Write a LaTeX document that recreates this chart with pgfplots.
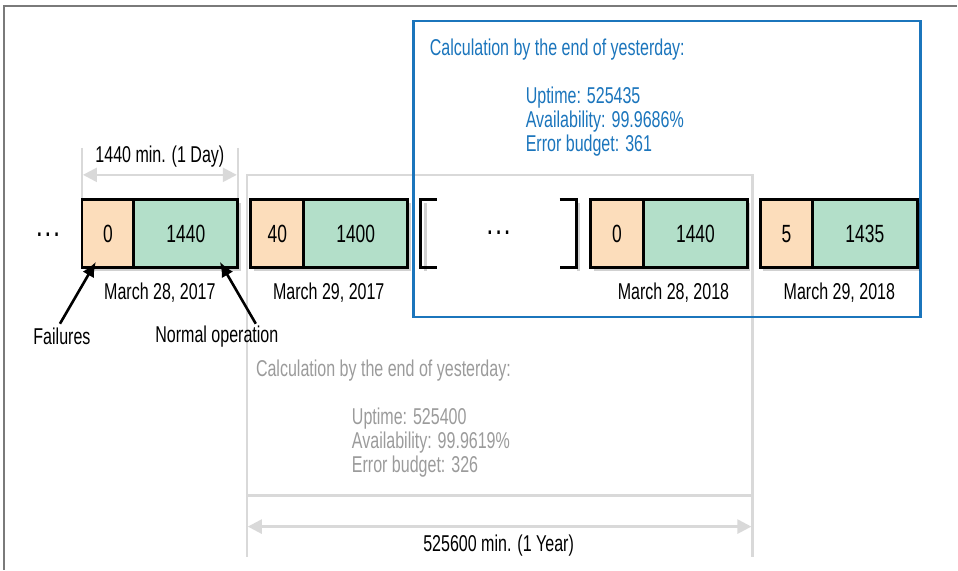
\documentclass[border=0pt]{standalone}
\usepackage{pgfplots}
\pgfplotsset{compat=1.18}
\usepackage{fontspec}
\setmainfont{Liberation Sans}[FakeStretch=0.70]
\usetikzlibrary{arrows.meta}
\definecolor{peach}{HTML}{FCDDBB}
\definecolor{mint}{HTML}{B3DFC9}
\definecolor{oblue}{HTML}{1B75BC}
\definecolor{lgray}{HTML}{D9D9D9}
\definecolor{tgray}{HTML}{9B9B9B}
\definecolor{fgray}{HTML}{7A7A7A}
\newcommand{\dayblock}[5]{%
  \fill[black,opacity=0.18,xshift=3bp,yshift=-3bp] (#1,200) rectangle (#3,268);
  \addplot[draw=black,line width=2.8bp,fill=peach,line join=miter] coordinates {(#1,200) (#2,200) (#2,268) (#1,268)} -- cycle;
  \addplot[draw=black,line width=2.8bp,fill=mint,line join=miter] coordinates {(#2,200) (#3,200) (#3,268) (#2,268)} -- cycle;
  \node[lab,font=\fontsize{25}{28}\selectfont] at ({(#1+#2)/2},234) {#4};
  \node[lab,font=\fontsize{25}{28}\selectfont] at ({(#2+#3)/2},234) {#5};
}
\begin{document}
\begin{tikzpicture}[lab/.style={font=\fontsize{23}{26}\selectfont,inner sep=0pt}]
\begin{axis}[x=1bp,y=1bp,xmin=0,xmax=958,ymin=0,ymax=570,y dir=reverse,
  hide axis,clip=false,scale only axis]
\path (0,0) rectangle (958,570);
% outer frame
\draw[fgray,line width=1.5bp] (4,570) -- (4,6) -- (958,6);
% gray year box
\draw[lgray,line width=2.5bp] (247,557) -- (247,175) -- (753,175) -- (753,557);
\draw[lgray,line width=2.5bp] (247,496) -- (753,496);
\draw[lgray,line width=2.5bp,{Triangle[length=14bp,width=14bp]}-{Triangle[length=14bp,width=14bp]}] (248,527) -- (752,527);
\node[lab] at (499,546) {525600 min. (1 Year)};
% day dimension
\draw[lgray,line width=2.5bp] (82,148) -- (82,200);
\draw[lgray,line width=2.5bp] (238,148) -- (238,200);
\draw[lgray,line width=2.5bp,{Triangle[length=14bp,width=14bp]}-{Triangle[length=14bp,width=14bp]}] (83,175) -- (237,175);
\node[lab] at (160,157) {1440 min. (1 Day)};
% blue box
\draw[oblue,line width=2.5bp] (414,21) rectangle (921,317);
\node[lab,text=oblue,anchor=west] at (430,50) {Calculation by the end of yesterday:};
\node[lab,text=oblue,anchor=west] at (526,98) {Uptime: 525435};
\node[lab,text=oblue,anchor=west] at (526,122) {Availability: 99.9686\%};
\node[lab,text=oblue,anchor=west] at (526,146) {Error budget: 361};
% gray texts
\node[lab,text=tgray,anchor=west] at (256,371) {Calculation by the end of yesterday:};
\node[lab,text=tgray,anchor=west] at (352,419) {Uptime: 525400};
\node[lab,text=tgray,anchor=west] at (352,443) {Availability: 99.9619\%};
\node[lab,text=tgray,anchor=west] at (352,467) {Error budget: 326};
% blocks
\dayblock{82}{134}{238}{0}{1440}
\dayblock{251}{304}{408}{40}{1400}
\dayblock{591}{644}{748}{0}{1440}
\dayblock{761}{813}{918}{5}{1435}
% brackets
\fill[black,opacity=0.18,xshift=3bp,yshift=-3bp] (421,200) rectangle (424,268);
\draw[black,line width=2.8bp,line join=miter] (437,200) -- (421,200) -- (421,268) -- (437,268);
\fill[black,opacity=0.18,xshift=3bp,yshift=-3bp] (574,200) rectangle (577,268);
\draw[black,line width=2.8bp,line join=miter] (560,200) -- (577,200) -- (577,268) -- (560,268);
\node[lab,font=\fontsize{24}{26}\selectfont\bfseries] at (499,233) {.\,.\,.};
\node[lab,font=\fontsize{24}{26}\selectfont\bfseries] at (48,235) {.\,.\,.};
% dates
\node[lab] at (160,293) {March 28, 2017};
\node[lab] at (329,293) {March 29, 2017};
\node[lab] at (674,293) {March 28, 2018};
\node[lab] at (840,293) {March 29, 2018};
% pointers
\draw[black,line width=2.6bp,-{Latex[length=15bp,width=13bp]}] (60,324) -- (96,262);
\draw[black,line width=2.6bp,-{Latex[length=15bp,width=13bp]}] (256,324) -- (220,262);
\node[lab] at (62,337) {Failures};
\node[lab] at (217,337) {Normal operation};
\end{axis}
\end{tikzpicture}
\end{document}
